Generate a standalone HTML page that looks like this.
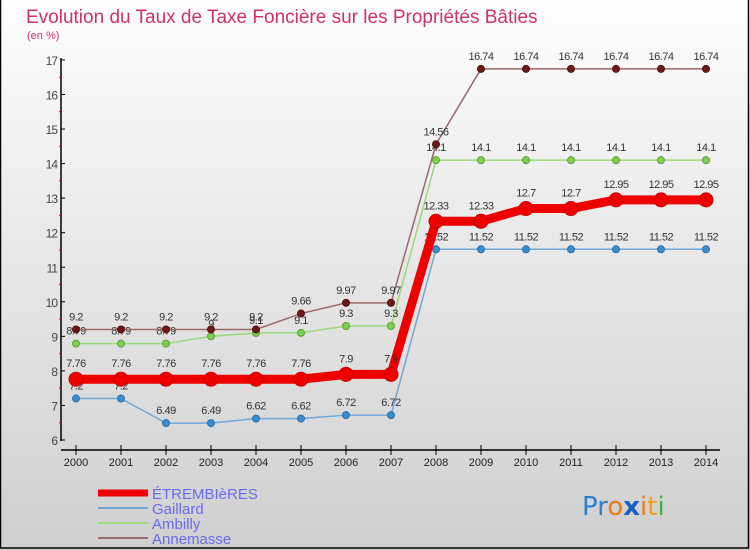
<!DOCTYPE html>
<html><head><meta charset="utf-8"><style>
body{margin:0;}
#wrap{position:relative;width:750px;height:550px;overflow:hidden;font-family:"Liberation Sans",sans-serif;}
</style></head><body>
<div id="wrap">
<svg id="svg" width="750" height="550" xmlns="http://www.w3.org/2000/svg">
<defs><linearGradient id="bg" x1="0" y1="0" x2="0" y2="1"><stop offset="0" stop-color="#fdfdfd"/><stop offset="1" stop-color="#cfcfcf"/></linearGradient></defs>
<rect x="0" y="0" width="750" height="550" fill="url(#bg)"/>
<rect x="0.5" y="-2" width="748" height="550" fill="none" stroke="#000" stroke-width="1.5"/>
<text x="26" y="23" font-size="19" fill="#d0306a">Evolution du Taux de Taxe Foncière sur les Propriétés Bâties</text>
<text x="27" y="39" font-size="11" fill="#d0306a">(en %)</text>
<g id="axes"></g>
<g id="series"></g>
<g id="legend"></g>
<text x="582" y="515" font-size="26" font-family="DejaVu Sans, sans-serif"><tspan fill="#2a7fd0">Pr</tspan><tspan fill="#f07a10">o</tspan><tspan fill="#1a60c0" font-weight="bold">x</tspan><tspan fill="#f07a10">i</tspan><tspan fill="#f0a010">t</tspan><tspan fill="#40b040">i</tspan></text>
</svg>
</div>
<script>
const years=[2000,2001,2002,2003,2004,2005,2006,2007,2008,2009,2010,2011,2012,2013,2014];
const yTicks=[6,7,8,9,10,11,12,13,14,15,16,17];
const etrembieres=[7.76,7.76,7.76,7.76,7.76,7.76,7.9,7.9,12.33,12.33,12.7,12.7,12.95,12.95,12.95];
const gaillard=[7.2,7.2,6.49,6.49,6.62,6.62,6.72,6.72,11.52,11.52,11.52,11.52,11.52,11.52,11.52];
const ambilly=[8.79,8.79,8.79,9,9.1,9.1,9.3,9.3,14.1,14.1,14.1,14.1,14.1,14.1,14.1];
const annemasse=[9.2,9.2,9.2,9.2,9.2,9.66,9.97,9.97,14.56,16.74,16.74,16.74,16.74,16.74,16.74];
const seriesNames=["ÉTREMBIèRES","Gaillard","Ambilly","Annemasse"];

const NS="http://www.w3.org/2000/svg";
function X(i){return 76+i*45;}
function Y(v){return 440-(v-6)*34.55;}
function mk(tag,attrs,parent){const e=document.createElementNS(NS,tag);for(const k in attrs)e.setAttribute(k,attrs[k]);parent.appendChild(e);return e;}
const axes=document.getElementById('axes');
const ax=mk('line',{x1:61,y1:58,x2:61,y2:441,stroke:'#000','stroke-width':1.5},axes);


const xa=mk('line',{x1:61,y1:450,x2:720,y2:450,stroke:'#000','stroke-width':1.5},axes);


yTicks.forEach(v=>{
  mk('line',{x1:61,y1:Y(v),x2:65,y2:Y(v),stroke:'#000'},axes);
  if(v<17)mk('line',{x1:59,y1:Y(v+0.5),x2:62,y2:Y(v+0.5),stroke:'#e00'},axes);
  const t=mk('text',{x:57,y:Y(v)+5,'font-size':12,'text-anchor':'end',fill:'#444','letter-spacing':'-1'},axes);
  t.textContent=v;
  
  
});
years.forEach((yr,i)=>{
  mk('line',{x1:X(i),y1:445,x2:X(i),y2:455,stroke:'#000'},axes);
  const t=mk('text',{x:X(i),y:466,'font-size':11,'text-anchor':'middle',fill:'#222'},axes);
  t.textContent=yr;
  
  
});
const sg=document.getElementById('series');
function draw(data,line,fill,stroke,w,r,name,labelDy){
  const g=mk('g',{},sg);
  
  
  const p=mk('polyline',{points:data.map((v,i)=>X(i)+','+Y(v)).join(' '),fill:'none',stroke:line,'stroke-width':w},g);
  
  
  data.forEach((v,i)=>{
    const c=mk('circle',{cx:X(i),cy:Y(v),r:r,fill:fill,stroke:stroke,'stroke-width':1},g);
    
    
    const t=mk('text',{x:X(i),y:Y(v)+labelDy,'font-size':11,'text-anchor':'middle',fill:'#333','letter-spacing':'-0.5'},g);
    t.textContent=String(v);
    
    
  });
}
draw(gaillard,'#6fa8d8','#3a8ed0','#2a6ea8',1.5,3.5,'gaillard',-9);
draw(ambilly,'#9ad878','#7ed050','#5aa030',1.5,3.5,'ambilly',-9);
draw(annemasse,'#9a6a6a','#701818','#501010',1.5,3.5,'annemasse',-9);
draw(etrembieres,'#ee0000','#ee0000','#cc0000',9,7,'etrembieres',-12);
const lg=document.getElementById('legend');
const cols=['#ee0000','#6fa8d8','#9ad878','#9a6a6a'];const ws=[7,2,2,2];
seriesNames.forEach((n,i)=>{
  const y=493+i*15;
  const g=mk('g',{},lg);
  
  
  mk('line',{x1:98,y1:y,x2:148,y2:y,stroke:cols[i],'stroke-width':ws[i]},g);
  const t=mk('text',{x:152,y:y+6,'font-size':15,fill:'#6a6af0'},g);
  t.textContent=n;
});
</script>
</body></html>
